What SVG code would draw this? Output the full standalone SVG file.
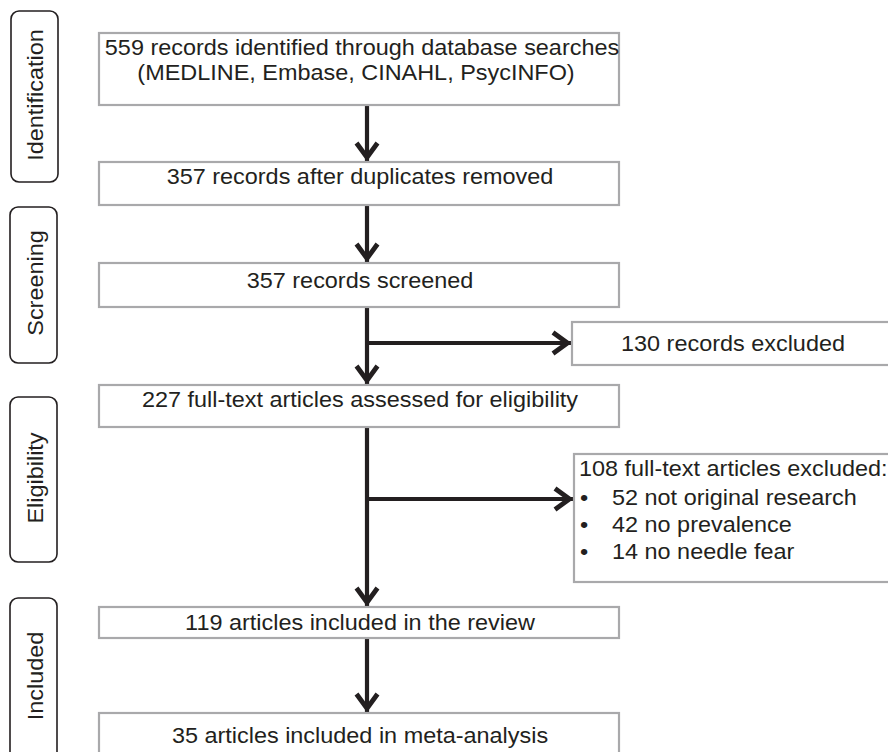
<svg xmlns="http://www.w3.org/2000/svg" width="888" height="752" viewBox="0 0 888 752">
<defs>
<style>
.box{fill:#fff;stroke:#a9a9ab;stroke-width:2.2}
.stage{fill:#fff;stroke:#231f20;stroke-width:1.6}
.t{font-family:"Liberation Sans",Arial,sans-serif;font-size:22px;fill:#231f20}
.c{text-anchor:middle}
.conn{fill:none;stroke:#231f20;stroke-width:4.2}
</style>
<marker id="ah" markerUnits="userSpaceOnUse" markerWidth="40" markerHeight="40" viewBox="-30 -20 40 40" refX="0" refY="0" orient="auto" overflow="visible">
<path d="M-19,-10.5 L-4.5,0 L-19,10.5" fill="none" stroke="#231f20" stroke-width="4.8" stroke-linejoin="miter" stroke-miterlimit="10"/>
</marker>
</defs>
<rect width="888" height="752" fill="#fff"/>

<g id="stage-identification">
<rect class="stage" x="11" y="11" width="47" height="171" rx="8"/>
<text class="t c" transform="translate(43,95) rotate(-90) scale(1.065,1)">Identification</text>
</g>
<g id="stage-screening">
<rect class="stage" x="10" y="207" width="47" height="156" rx="8"/>
<text class="t c" transform="translate(43,283) rotate(-90) scale(1.065,1)">Screening</text>
</g>
<g id="stage-eligibility">
<rect class="stage" x="10" y="397" width="47" height="165" rx="8"/>
<text class="t c" transform="translate(43,478) rotate(-90) scale(1.065,1)">Eligibility</text>
</g>
<g id="stage-included">
<rect class="stage" x="10" y="598" width="47" height="170" rx="8"/>
<text class="t c" transform="translate(43,676) rotate(-90) scale(1.065,1)">Included</text>
</g>

<g id="connectors">
<path class="conn" d="M367,105 V162" marker-end="url(#ah)"/>
<path class="conn" d="M367,205 V263" marker-end="url(#ah)"/>
<path class="conn" d="M367,307 V385" marker-end="url(#ah)"/>
<path class="conn" d="M367,343 H572" marker-end="url(#ah)"/>
<path class="conn" d="M367,427 V607" marker-end="url(#ah)"/>
<path class="conn" d="M367,499 H574" marker-end="url(#ah)"/>
<path class="conn" d="M367,638 V713" marker-end="url(#ah)"/>
</g>

<g id="node-identified">
<rect class="box" x="99" y="33" width="520" height="72"/>
<text class="t c" transform="translate(362,55) scale(1.065,1)">559 records identified through database searches</text>
<text class="t c" transform="translate(356,80) scale(1.065,1)">(MEDLINE, Embase, CINAHL, PsycINFO)</text>
</g>
<g id="node-duplicates">
<rect class="box" x="99" y="162" width="520" height="43"/>
<text class="t c" transform="translate(360,184) scale(1.065,1)">357 records after duplicates removed</text>
</g>
<g id="node-screened">
<rect class="box" x="99" y="263" width="520" height="44"/>
<text class="t c" transform="translate(360,288) scale(1.065,1)">357 records screened</text>
</g>
<g id="node-excluded-records">
<rect class="box" x="572" y="322" width="330" height="43"/>
<text class="t c" transform="translate(733,351) scale(1.065,1)">130 records excluded</text>
</g>
<g id="node-fulltext">
<rect class="box" x="99" y="385" width="520" height="42"/>
<text class="t c" transform="translate(360,407) scale(1.065,1)">227 full-text articles assessed for eligibility</text>
</g>
<g id="node-excluded-fulltext">
<rect class="box" x="574" y="454" width="330" height="128"/>
<text class="t" transform="translate(579,476) scale(1.065,1)">108 full-text articles excluded:</text>
<text class="t" transform="translate(580,505) scale(1.065,1)">•</text>
<text class="t" transform="translate(612,505) scale(1.065,1)">52 not original research</text>
<text class="t" transform="translate(580,532) scale(1.065,1)">•</text>
<text class="t" transform="translate(612,532) scale(1.065,1)">42 no prevalence</text>
<text class="t" transform="translate(580,559) scale(1.065,1)">•</text>
<text class="t" transform="translate(612,559) scale(1.065,1)">14 no needle fear</text>
</g>
<g id="node-review">
<rect class="box" x="99" y="607" width="520" height="31"/>
<text class="t c" transform="translate(360,630) scale(1.065,1)">119 articles included in the review</text>
</g>
<g id="node-meta">
<rect class="box" x="99" y="713" width="520" height="60"/>
<text class="t c" transform="translate(360,743) scale(1.065,1)">35 articles included in meta-analysis</text>
</g>
</svg>
